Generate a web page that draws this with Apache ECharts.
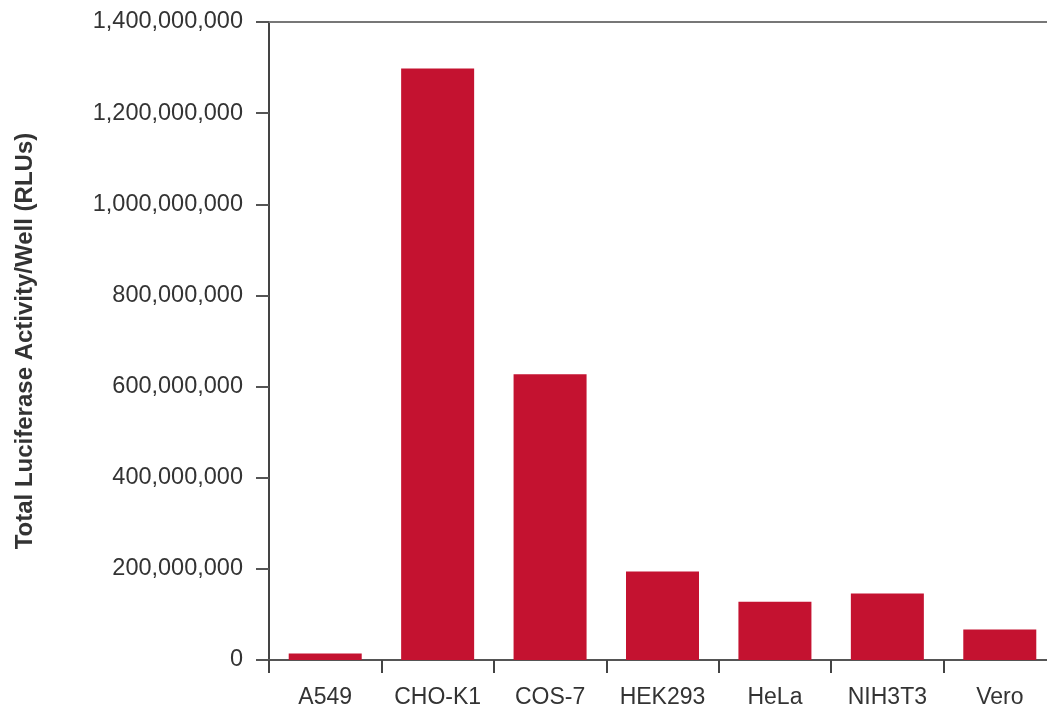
<!DOCTYPE html>
<html>
<head>
<meta charset="utf-8">
<script src="https://cdn.jsdelivr.net/npm/echarts@6/dist/echarts.min.js"></script>
<style>
html,body{margin:0;padding:0;background:#fff;}
#chart{width:1047px;height:713px;}
</style>
</head>
<body>
<div id="chart"></div>
<script>
const categories = ['A549', 'CHO-K1', 'COS-7', 'HEK293', 'HeLa', 'NIH3T3', 'Vero'];
const luciferase = [14000000, 1298000000, 627000000, 194000000, 128000000, 146000000, 67000000];
const yTicks = [0, 200000000, 400000000, 600000000, 800000000, 1000000000, 1200000000, 1400000000];
const yTitle = 'Total Luciferase Activity/Well (RLUs)';

const chart = echarts.init(document.getElementById('chart'));
const font = 'Liberation Sans, Arial, sans-serif';
chart.setOption({
  animation: false,
  grid: { left: 269, top: 22, bottom: 53, width: 787, containLabel: false, outerBoundsMode: 'none' },
  xAxis: [{
    type: 'category',
    data: categories,
    axisLine: { lineStyle: { color: '#555', width: 2 } },
    axisTick: { show: true, length: 13, inside: false, interval: 0, lineStyle: { color: '#444', width: 2 } },
    axisLabel: { color: '#333', fontSize: 23, fontFamily: font, margin: 26, interval: 0 },
    splitLine: { show: false }
  }, {
    type: 'category',
    position: 'top',
    data: categories,
    axisLine: { show: true, lineStyle: { color: '#777', width: 2 } },
    axisTick: { show: false },
    axisLabel: { show: false }
  }],
  yAxis: {
    type: 'value',
    min: yTicks[0],
    max: yTicks[yTicks.length - 1],
    interval: 200000000,
    name: yTitle,
    nameLocation: 'middle',
    nameGap: 232,
    nameRotate: 90,
    nameTextStyle: { color: '#333', fontSize: 24, fontWeight: 'bold', fontFamily: font },
    axisLine: { show: true, lineStyle: { color: '#444', width: 2 } },
    axisTick: { show: true, length: 13, lineStyle: { color: '#555', width: 2 } },
    axisLabel: {
      color: '#333', fontSize: 23.5, fontFamily: font, margin: 26,
      formatter: v => v.toLocaleString('en-US')
    },
    splitLine: { show: false }
  },
  series: [{
    type: 'bar',
    data: luciferase,
    barWidth: 73,
    itemStyle: { color: '#C41230' }
  }]
});
</script>
</body>
</html>
